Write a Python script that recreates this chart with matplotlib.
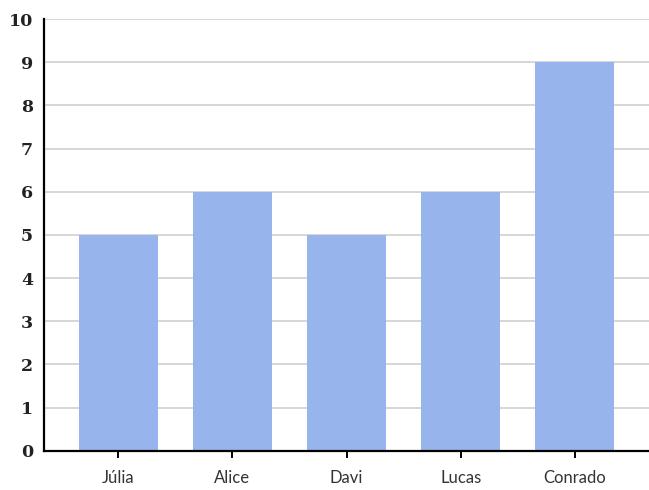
import numpy as np
import matplotlib.pyplot as plt

names = ["Júlia", "Alice", "Davi", "Lucas", "Conrado"]
values = [5, 6, 5, 6, 9]
yticks = list(range(0, 11))

fig = plt.figure(figsize=(6.49, 4.9), dpi=100)
ax = fig.add_axes([0.068, 0.080, 0.932, 0.881])

x = np.arange(len(names))
ax.bar(x, values, width=0.69, color="#97b4ec", zorder=2)

ax.set_xlim(-0.65, 4.65)
ax.set_ylim(0, 10)
ax.set_yticks(yticks)
ax.set_yticklabels([str(t) for t in yticks], family="DejaVu Serif",
                   fontsize=12.5, fontweight="bold", color="#222222")
ax.set_xticks(x)
ax.set_xticklabels(names, family="Lato", fontsize=12, color="#333333")

ax.yaxis.grid(True, color="#cfcfcf", linewidth=1.2, zorder=0)
ax.set_axisbelow(True)
for s in ["top", "right"]:
    ax.spines[s].set_visible(False)
ax.spines["left"].set_linewidth(1.6)
ax.spines["bottom"].set_linewidth(1.6)
ax.tick_params(axis="y", length=0, pad=8)
ax.tick_params(axis="x", length=5, width=1.4, pad=9)

fig.savefig("out.png", dpi=100)
